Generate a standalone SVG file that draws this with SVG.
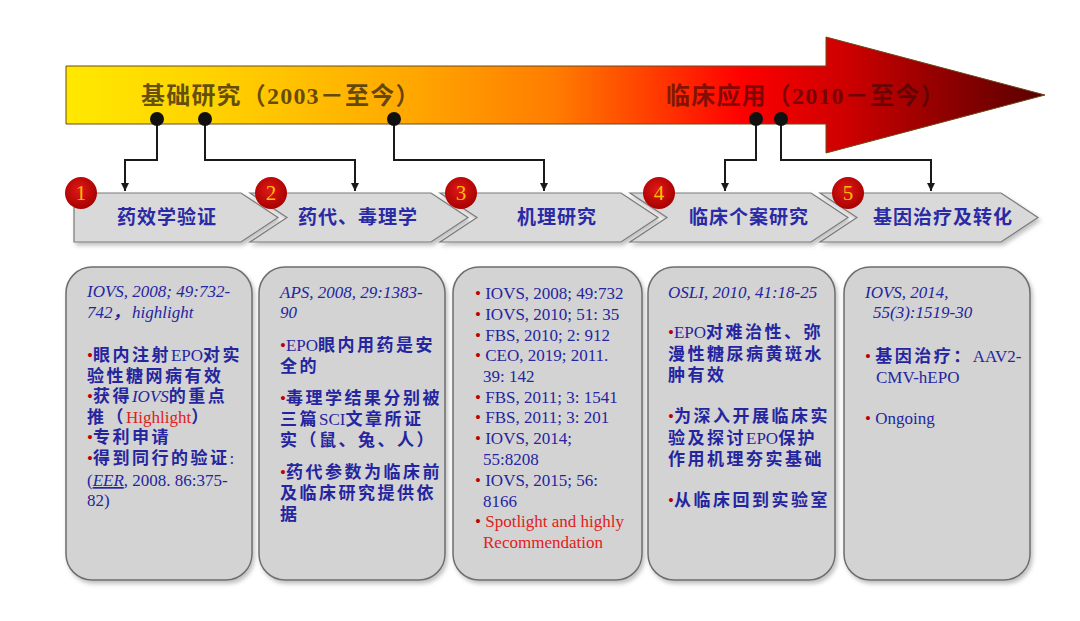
<svg xmlns="http://www.w3.org/2000/svg" width="1080" height="621" viewBox="0 0 1080 621">
<defs>
<linearGradient id="arrowGrad" x1="66" y1="0" x2="1045" y2="0" gradientUnits="userSpaceOnUse">
<stop offset="0" stop-color="#ffe900"/>
<stop offset="0.15" stop-color="#ffd200"/>
<stop offset="0.35" stop-color="#ffa800"/>
<stop offset="0.5" stop-color="#ff7c00"/>
<stop offset="0.6" stop-color="#ff3c00"/>
<stop offset="0.69" stop-color="#ff0000"/>
<stop offset="0.8" stop-color="#cc0000"/>
<stop offset="0.9" stop-color="#8e0000"/>
<stop offset="1" stop-color="#5a0000"/>
</linearGradient>
<radialGradient id="numGrad" cx="0.45" cy="0.4" r="0.6">
<stop offset="0" stop-color="#e01818"/>
<stop offset="1" stop-color="#a80000"/>
</radialGradient>
<filter id="sh" x="-10%" y="-10%" width="130%" height="130%">
<feDropShadow dx="2" dy="3" stdDeviation="2" flood-color="#000" flood-opacity="0.25"/>
</filter>
<marker id="ah" markerWidth="10" markerHeight="10" refX="8" refY="5" orient="auto" markerUnits="userSpaceOnUse">
<path d="M0,1 L8,5 L0,9 Z" fill="#1a1a1a"/>
</marker>
<style>
.title{font-family:'Liberation Serif','Noto Sans CJK SC',serif;font-size:24px;font-weight:bold;letter-spacing:1.2px;}
.chev{fill:#d9d9d9;stroke:#7a7a7a;stroke-width:1.2;}
.chevt{font-family:'Liberation Serif','Noto Sans CJK SC',serif;font-size:19px;font-weight:bold;fill:#2a2aa6;letter-spacing:1px;text-anchor:middle;}
.num{fill:url(#numGrad);}
.numt{font-family:'Liberation Serif',serif;font-size:21px;fill:#ffc000;text-anchor:middle;}
.card{fill:#d3d3d3;stroke:#6e6e6e;stroke-width:1.5;}
.t{font-family:'Liberation Serif','Noto Sans CJK SC',serif;font-size:17px;fill:#2525a0;}
.i{font-style:italic;}
.c{font-weight:bold;letter-spacing:2.5px;}
.b{fill:#c00000;}
.r{fill:#e02020;}
.u{text-decoration:underline;}
.conn{fill:none;stroke:#1a1a1a;stroke-width:2;}
.dot{fill:#111;}
</style>
</defs>
<rect width="1080" height="621" fill="#ffffff"/>

<g id="timeline">
<path d="M66,66 H826 V37 L1045,95 L826,153 V124 H66 Z" fill="url(#arrowGrad)" stroke="#6b4a1a" stroke-width="1"/>
<text class="title" x="141" y="104" fill="#3a2a10" fill-opacity="0.78">基础研究（2003－至今）</text>
<text class="title" x="666" y="104" fill="#3a0808" fill-opacity="0.65">临床应用（2010－至今）</text>
</g>

<g id="connectors">
<path class="conn" d="M157,120 V160 H125 V191" marker-end="url(#ah)"/>
<path class="conn" d="M205,120 V160 H355 V191" marker-end="url(#ah)"/>
<path class="conn" d="M394,120 V160 H544 V191" marker-end="url(#ah)"/>
<path class="conn" d="M756,120 V160 H725 V191" marker-end="url(#ah)"/>
<path class="conn" d="M781,120 V160 H931 V191" marker-end="url(#ah)"/>
<circle class="dot" cx="157" cy="119" r="7"/>
<circle class="dot" cx="205" cy="119" r="7"/>
<circle class="dot" cx="394" cy="119" r="7"/>
<circle class="dot" cx="756" cy="119" r="7"/>
<circle class="dot" cx="781" cy="119" r="7"/>
</g>

<g id="step1">
<path class="chev" filter="url(#sh)" d="M74,193 H241 L278,217.5 L241,242 H74 Z"/>
<text class="chevt" x="167" y="224">药效学验证</text>
<circle class="num" cx="81" cy="193" r="16"/>
<text class="numt" x="81" y="200">1</text>
</g>
<g id="step2">
<path class="chev" filter="url(#sh)" d="M250,193 H431 L468,217.5 L431,242 H250 L287,217.5 Z"/>
<text class="chevt" x="358" y="224">药代、毒理学</text>
<circle class="num" cx="271" cy="193" r="16"/>
<text class="numt" x="271" y="200">2</text>
</g>
<g id="step3">
<path class="chev" filter="url(#sh)" d="M440,193 H621 L658,217.5 L621,242 H440 L477,217.5 Z"/>
<text class="chevt" x="557" y="224">机理研究</text>
<circle class="num" cx="461" cy="193" r="16"/>
<text class="numt" x="461" y="200">3</text>
</g>
<g id="step4">
<path class="chev" filter="url(#sh)" d="M630,193 H811 L848,217.5 L811,242 H630 L667,217.5 Z"/>
<text class="chevt" x="749" y="224">临床个案研究</text>
<circle class="num" cx="659" cy="193" r="16"/>
<text class="numt" x="659" y="200">4</text>
</g>
<g id="step5">
<path class="chev" filter="url(#sh)" d="M820,193 H1001 L1038,217.5 L1001,242 H820 L857,217.5 Z"/>
<text class="chevt" x="943" y="224">基因治疗及转化</text>
<circle class="num" cx="848" cy="193" r="16"/>
<text class="numt" x="848" y="200">5</text>
</g>

<g id="card1">
<rect class="card" filter="url(#sh)" x="66" y="267" width="186" height="313" rx="26"/>
<text class="t i" x="87" y="297">IOVS, 2008; 49:732-</text>
<text class="t i" x="87" y="318">742<tspan class="c">，</tspan>highlight</text>
<text class="t" x="87" y="361"><tspan class="b">•</tspan><tspan class="c">眼内注射</tspan>EPO<tspan class="c">对实</tspan></text>
<text class="t" x="87" y="382"><tspan class="c">验性糖网病有效</tspan></text>
<text class="t" x="87" y="402"><tspan class="b">•</tspan><tspan class="c">获得</tspan><tspan class="i">IOVS</tspan><tspan class="c">的重点</tspan></text>
<text class="t" x="87" y="423"><tspan class="c">推（</tspan><tspan class="r">Highlight</tspan><tspan class="c">）</tspan></text>
<text class="t" x="87" y="443"><tspan class="b">•</tspan><tspan class="c">专利申请</tspan></text>
<text class="t" x="87" y="464"><tspan class="b">•</tspan><tspan class="c">得到同行的验证</tspan>:</text>
<text class="t" x="87" y="486">(<tspan class="i u">EER</tspan>, 2008. 86:375-</text>
<text class="t" x="87" y="506">82)</text>
</g>

<g id="card2">
<rect class="card" filter="url(#sh)" x="259" y="267" width="186" height="313" rx="26"/>
<text class="t i" x="280" y="298">APS, 2008, 29:1383-</text>
<text class="t i" x="280" y="318">90</text>
<text class="t" x="280" y="351"><tspan class="b">•</tspan>EPO<tspan class="c">眼内用药是安</tspan></text>
<text class="t" x="280" y="372"><tspan class="c">全的</tspan></text>
<text class="t" x="280" y="404"><tspan class="b">•</tspan><tspan class="c">毒理学结果分别被</tspan></text>
<text class="t" x="280" y="425"><tspan class="c">三篇</tspan>SCI<tspan class="c">文章所证</tspan></text>
<text class="t" x="280" y="446"><tspan class="c">实（鼠、兔、人）</tspan></text>
<text class="t" x="280" y="478"><tspan class="b">•</tspan><tspan class="c">药代参数为临床前</tspan></text>
<text class="t" x="280" y="499"><tspan class="c">及临床研究提供依</tspan></text>
<text class="t" x="280" y="520"><tspan class="c">据</tspan></text>
</g>

<g id="card3">
<rect class="card" filter="url(#sh)" x="453" y="267" width="189" height="313" rx="26"/>
<text class="t" x="475" y="299"><tspan class="b">•</tspan> IOVS, 2008; 49:732</text>
<text class="t" x="475" y="320"><tspan class="b">•</tspan> IOVS, 2010; 51: 35</text>
<text class="t" x="475" y="341"><tspan class="b">•</tspan> FBS, 2010; 2: 912</text>
<text class="t" x="475" y="361"><tspan class="b">•</tspan> CEO, 2019;  2011.</text>
<text class="t" x="483" y="382">39: 142</text>
<text class="t" x="475" y="403"><tspan class="b">•</tspan> FBS, 2011; 3: 1541</text>
<text class="t" x="475" y="423"><tspan class="b">•</tspan> FBS, 2011; 3: 201</text>
<text class="t" x="475" y="444"><tspan class="b">•</tspan> IOVS, 2014;</text>
<text class="t" x="483" y="465">55:8208</text>
<text class="t" x="475" y="486"><tspan class="b">•</tspan> IOVS, 2015; 56:</text>
<text class="t" x="483" y="507">8166</text>
<text class="t r" x="475" y="527"><tspan class="b">•</tspan> Spotlight and highly</text>
<text class="t r" x="483" y="548">Recommendation</text>
</g>

<g id="card4">
<rect class="card" filter="url(#sh)" x="648" y="267" width="187" height="313" rx="26"/>
<text class="t i" x="668" y="298">OSLI, 2010, 41:18-25</text>
<text class="t" x="668" y="338"><tspan class="b">•</tspan>EPO<tspan class="c">对难治性、弥</tspan></text>
<text class="t" x="668" y="360"><tspan class="c">漫性糖尿病黄斑水</tspan></text>
<text class="t" x="668" y="381"><tspan class="c">肿有效</tspan></text>
<text class="t" x="668" y="422"><tspan class="b">•</tspan><tspan class="c">为深入开展临床实</tspan></text>
<text class="t" x="668" y="444"><tspan class="c">验及探讨</tspan>EPO<tspan class="c">保护</tspan></text>
<text class="t" x="668" y="465"><tspan class="c">作用机理夯实基础</tspan></text>
<text class="t" x="668" y="506"><tspan class="b">•</tspan><tspan class="c">从临床回到实验室</tspan></text>
</g>

<g id="card5">
<rect class="card" filter="url(#sh)" x="844" y="267" width="186" height="313" rx="26"/>
<text class="t i" x="865" y="298">IOVS, 2014,</text>
<text class="t i" x="873" y="318">55(3):1519-30</text>
<text class="t" x="865" y="362"><tspan class="b">•</tspan> <tspan class="c">基因治疗：</tspan>AAV2-</text>
<text class="t" x="876" y="383">CMV-hEPO</text>
<text class="t" x="865" y="424"><tspan class="b">•</tspan> Ongoing</text>
</g>
</svg>
